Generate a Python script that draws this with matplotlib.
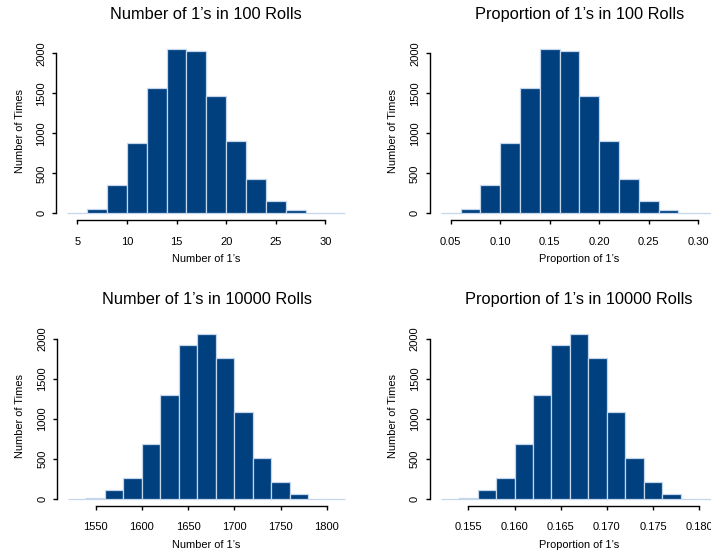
"""
Four R-style histograms: counts and proportions of 1's in 100 and 10000 die rolls.
"""
import numpy as np
import matplotlib.pyplot as plt

plt.rcParams["font.family"] = ["Liberation Sans", "DejaVu Sans"]

# 100 rolls: bins of width 2 from 4 to 32
breaks100 = np.arange(4, 33, 2)
counts100 = [5, 54, 354, 875, 1571, 2054, 2033, 1471, 908, 433, 154, 38, 8, 2]
ticks100 = [5, 10, 15, 20, 25, 30]

# 10000 rolls: bins of width 20 from 1520 to 1820
breaks10k = np.arange(1520, 1821, 20)
counts10k = [3, 10, 112, 258, 688, 1300, 1925, 2067, 1767, 1088, 517, 212, 67, 6, 3]
ticks10k = [1550, 1600, 1650, 1700, 1750, 1800]

yTicks = [0, 500, 1000, 1500, 2000]

FILL = "#00407F"
EDGE = "#C4D6EC"
W, H = 711, 558


def DrawHist(fig, rect, breaks, counts, xticks, xfmt, title, xlabel):
    x0, y0, x1, y1 = rect  # pixel box, top-left origin
    ax = fig.add_axes([x0 / W, 1 - y1 / H, (x1 - x0) / W, (y1 - y0) / H])
    breaks = np.asarray(breaks, dtype=float)
    ax.bar(breaks[:-1], counts, width=np.diff(breaks), align="edge",
           color=FILL, edgecolor=EDGE, linewidth=0.9)
    span = breaks[-1] - breaks[0]
    ax.set_xlim(breaks[0] - 0.04 * span, breaks[-1] + 0.04 * span)
    top = max(counts)
    ax.set_ylim(-0.04 * top, 1.04 * top)
    for s in ("top", "right"):
        ax.spines[s].set_visible(False)
    ax.spines["left"].set_bounds(yTicks[0], yTicks[-1])
    ax.spines["bottom"].set_bounds(xticks[0], xticks[-1])
    for s in ("left", "bottom"):
        ax.spines[s].set_linewidth(1.0)
    ax.set_xticks(xticks)
    ax.set_xticklabels([xfmt.format(v) for v in xticks])
    ax.set_yticks(yTicks)
    ax.set_yticklabels([str(v) for v in yTicks], rotation=90, va="center")
    ax.tick_params(axis="x", length=3, width=1.0, labelsize=8, pad=9)
    ax.tick_params(axis="y", length=3, width=1.0, labelsize=8, pad=4)
    ax.set_title(title, fontsize=11.8, pad=16.5)
    ax.set_xlabel(xlabel, fontsize=7.9)
    ax.set_ylabel("Number of Times", fontsize=7.9)
    ax.xaxis.set_label_coords(0.5, -0.19)
    ax.yaxis.set_label_coords(-0.105, 0.5)
    return ax


fig = plt.figure(figsize=(W / 100, H / 100), dpi=100)

DrawHist(fig, (56.3, 42.3, 356.3, 220.0), breaks100, counts100, ticks100, "{:d}",
         "Number of 1\u2019s in 100 Rolls", "Number of 1\u2019s")
DrawHist(fig, (429.7, 42.3, 729.2, 220.0), breaks100 / 100, counts100,
         [t / 100 for t in ticks100], "{:.2f}",
         "Proportion of 1\u2019s in 100 Rolls", "Proportion of 1\u2019s")
DrawHist(fig, (56.9, 327.0, 356.3, 505.6), breaks10k, counts10k, ticks10k, "{:d}",
         "Number of 1\u2019s in 10000 Rolls", "Number of 1\u2019s")
DrawHist(fig, (429.5, 327.0, 728.9, 505.6), breaks10k / 10000, counts10k,
         [t / 10000 for t in ticks10k], "{:.3f}",
         "Proportion of 1\u2019s in 10000 Rolls", "Proportion of 1\u2019s")

fig.savefig("out.png", dpi=100)
